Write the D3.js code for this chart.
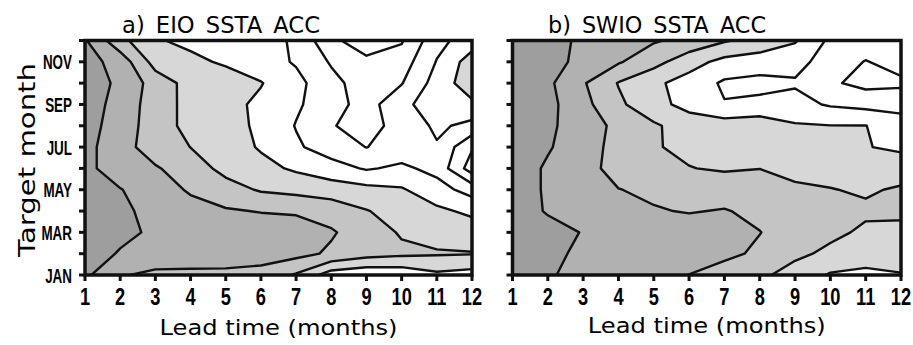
<!DOCTYPE html>
<html>
<head>
<meta charset="utf-8">
<script src="https://cdn.jsdelivr.net/npm/d3@7"></script>
<style>
  html, body { margin: 0; padding: 0; background: #fff; }
  svg { display: block; }
  text { font-family: 'DejaVu Sans', sans-serif; fill: #000; }
  .tick-label { font-family: 'Liberation Sans', Arial, sans-serif; font-weight: bold; }
</style>
</head>
<body>
<div id="chart"></div>
<script>
// lead time axis (months)
const leads = [1, 2, 3, 4, 5, 6, 7, 8, 9, 10, 11, 12]
// target months, JAN at the bottom of the plot
const months = ['JAN', 'FEB', 'MAR', 'APR', 'MAY', 'JUN', 'JUL', 'AUG', 'SEP', 'OCT', 'NOV', 'DEC']
const monthLabels = ['JAN', 'MAR', 'MAY', 'JUL', 'SEP', 'NOV']

// ACC, one row per target month (JAN..DEC), one column per lead (1..12)
const eioAcc = [
  [0.92, 0.81, 0.775, 0.775, 0.775, 0.76, 0.69, 0.55, 0.52, 0.53, 0.58, 0.56],
  [0.96, 0.89, 0.87, 0.86, 0.855, 0.85, 0.83, 0.785, 0.74, 0.72, 0.71, 0.705],
  [0.97, 0.93, 0.88, 0.875, 0.87, 0.86, 0.84, 0.81, 0.75, 0.69, 0.66, 0.65],
  [0.96, 0.92, 0.87, 0.83, 0.81, 0.795, 0.79, 0.76, 0.705, 0.66, 0.62, 0.58],
  [0.95, 0.905, 0.84, 0.79, 0.74, 0.69, 0.67, 0.65, 0.63, 0.61, 0.54, 0.46],
  [0.93, 0.84, 0.81, 0.75, 0.67, 0.63, 0.585, 0.54, 0.49, 0.52, 0.47, 0.25],
  [0.93, 0.84, 0.75, 0.699, 0.65, 0.59, 0.515, 0.45, 0.398, 0.44, 0.49, 0.31],
  [0.93, 0.865, 0.74, 0.675, 0.63, 0.585, 0.495, 0.405, 0.37, 0.43, 0.52, 0.47],
  [0.93, 0.878, 0.74, 0.675, 0.63, 0.58, 0.515, 0.44, 0.36, 0.47, 0.56, 0.58],
  [0.94, 0.885, 0.755, 0.665, 0.655, 0.605, 0.53, 0.43, 0.35, 0.395, 0.54, 0.66],
  [0.94, 0.86, 0.66, 0.625, 0.585, 0.545, 0.49, 0.39, 0.32, 0.35, 0.505, 0.65],
  [0.91, 0.73, 0.61, 0.575, 0.56, 0.54, 0.485, 0.32, 0.25, 0.29, 0.47, 0.55]
]

const swioAcc = [
  [0.95, 0.91, 0.87, 0.85, 0.82, 0.799, 0.76, 0.72, 0.66, 0.59, 0.57, 0.595],
  [0.97, 0.925, 0.88, 0.86, 0.845, 0.83, 0.82, 0.785, 0.72, 0.68, 0.66, 0.64],
  [0.97, 0.94, 0.895, 0.87, 0.86, 0.84, 0.825, 0.802, 0.76, 0.72, 0.685, 0.68],
  [0.96, 0.89, 0.86, 0.83, 0.806, 0.795, 0.805, 0.78, 0.76, 0.74, 0.714, 0.715],
  [0.96, 0.885, 0.85, 0.802, 0.785, 0.77, 0.76, 0.74, 0.72, 0.703, 0.69, 0.71],
  [0.96, 0.885, 0.83, 0.77, 0.74, 0.703, 0.689, 0.699, 0.666, 0.67, 0.67, 0.66],
  [0.96, 0.91, 0.84, 0.77, 0.707, 0.68, 0.67, 0.665, 0.655, 0.63, 0.605, 0.58],
  [0.95, 0.915, 0.86, 0.77, 0.715, 0.65, 0.65, 0.66, 0.61, 0.602, 0.602, 0.54],
  [0.95, 0.93, 0.83, 0.72, 0.63, 0.57, 0.505, 0.525, 0.53, 0.49, 0.47, 0.47],
  [0.95, 0.92, 0.81, 0.695, 0.62, 0.56, 0.485, 0.47, 0.49, 0.415, 0.37, 0.38],
  [0.95, 0.92, 0.885, 0.81, 0.735, 0.64, 0.57, 0.55, 0.53, 0.46, 0.395, 0.44],
  [0.95, 0.92, 0.89, 0.85, 0.81, 0.77, 0.71, 0.665, 0.61, 0.48, 0.46, 0.46]
]

// contour levels
const lineLevels = [0.3, 0.4, 0.5, 0.6, 0.7, 0.8, 0.9]
const fillLevels = [0.6, 0.7, 0.8, 0.9]
const fillColors = ['#d7d7d7', '#c4c4c4', '#b1b1b1', '#9e9e9e']

const W = 913, H = 345
const plotTop = 40.5, plotBottom = 275

const panels = [
  { name: 'a', title: 'a) EIO SSTA ACC', data: eioAcc, left: 85, right: 472,
    titleX: 122, titleW: 198, xTitleY: 335, yLabels: true },
  { name: 'b', title: 'b) SWIO SSTA ACC', data: swioAcc, left: 512.5, right: 901,
    titleX: 548, titleW: 218, xTitleY: 333, yLabels: false }
]

const svg = d3.select('#chart').append('svg')
  .attr('width', W)
  .attr('height', H)
  .attr('viewBox', [0, 0, W, H])

const defs = svg.append('defs')

panels.forEach(p => {
  const x = d3.scaleLinear().domain([1, 12]).range([p.left, p.right])
  const y = d3.scaleLinear().domain([1, 12]).range([plotBottom, plotTop])

  // grid cell i sits at coordinate i + 0.5 in d3.contours space
  const proj = d3.geoTransform({
    point(gx, gy) { this.stream.point(x(gx + 0.5), y(gy + 0.5)) }
  })
  const path = d3.geoPath(proj)
  const values = p.data.flat()
  const contours = d3.contours().size([leads.length, months.length])

  defs.append('clipPath').attr('id', 'clip_' + p.name)
    .append('rect')
    .attr('x', p.left).attr('y', plotTop)
    .attr('width', p.right - p.left).attr('height', plotBottom - plotTop)

  const g = svg.append('g').attr('clip-path', `url(#clip_${p.name})`)

  // filled bands, lightest first
  g.append('g').selectAll('path')
    .data(fillLevels.map(v => contours.contour(values, v)))
    .join('path')
    .attr('d', path)
    .attr('fill', (d, i) => fillColors[i])
    .attr('stroke', 'none')

  // contour lines
  g.append('g').selectAll('path')
    .data(lineLevels.map(v => contours.contour(values, v)))
    .join('path')
    .attr('d', path)
    .attr('fill', 'none')
    .attr('stroke', '#111')
    .attr('stroke-width', 2.4)
    .attr('stroke-linejoin', 'round')

  // ticks
  svg.append('g').selectAll('line')
    .data(months)
    .join('line')
    .attr('x1', p.left - 6).attr('x2', p.left)
    .attr('y1', (d, i) => y(i + 1)).attr('y2', (d, i) => y(i + 1))
    .attr('stroke', '#111').attr('stroke-width', 3)

  svg.append('g').selectAll('line')
    .data(leads)
    .join('line')
    .attr('x1', d => x(d)).attr('x2', d => x(d))
    .attr('y1', plotBottom).attr('y2', plotBottom + 6)
    .attr('stroke', '#111').attr('stroke-width', 3)

  // frame
  svg.append('rect')
    .attr('x', p.left).attr('y', plotTop)
    .attr('width', p.right - p.left).attr('height', plotBottom - plotTop)
    .attr('fill', 'none').attr('stroke', '#111').attr('stroke-width', 3.5)

  // x tick labels
  svg.append('g').selectAll('text')
    .data(leads)
    .join('text')
    .attr('class', 'tick-label')
    .attr('transform', d => `translate(${x(d)},305) scale(0.76,1)`)
    .attr('text-anchor', 'middle')
    .attr('font-size', 24)
    .text(d => d)

  // y tick labels, left panel only
  if (p.yLabels) {
    svg.append('g').selectAll('text')
      .data(monthLabels)
      .join('text')
      .attr('class', 'tick-label')
      .attr('transform', d => `translate(72,${y(months.indexOf(d) + 1) + 7.5}) scale(0.64,1)`)
      .attr('text-anchor', 'end')
      .attr('font-size', 21)
      .text(d => d)

    svg.append('text')
      .attr('transform', `translate(35,160) rotate(-90)`)
      .attr('text-anchor', 'middle')
      .attr('font-size', 23)
      .attr('textLength', 194)
      .attr('lengthAdjust', 'spacingAndGlyphs')
      .text('Target month')
  }

  // panel title
  svg.append('text')
    .attr('x', p.titleX).attr('y', 33)
    .attr('font-size', 23)
    .attr('textLength', p.titleW)
    .attr('lengthAdjust', 'spacingAndGlyphs')
    .style('word-spacing', '4px')
    .text(p.title)

  // x axis title
  svg.append('text')
    .attr('x', (p.left + p.right) / 2).attr('y', p.xTitleY)
    .attr('text-anchor', 'middle')
    .attr('font-size', 22)
    .attr('textLength', 238)
    .attr('lengthAdjust', 'spacingAndGlyphs')
    .text('Lead time (months)')
})
</script>
</body>
</html>
